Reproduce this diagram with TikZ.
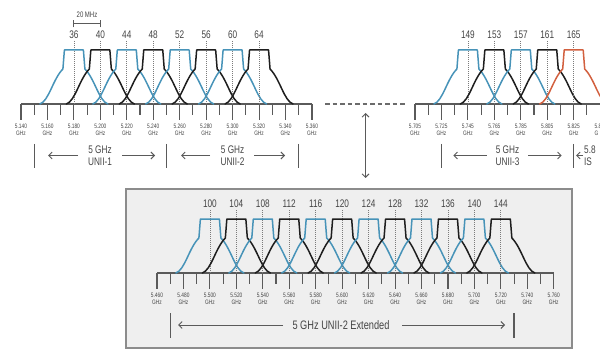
\documentclass[tikz,border=0pt]{standalone}
\usepackage{fontspec}
\setmainfont{Liberation Sans}
\newfontfamily\nf[FakeStretch=0.75]{Liberation Sans}
\usetikzlibrary{arrows.meta}
\definecolor{chblue}{HTML}{4793B8}
\definecolor{chblack}{HTML}{1E1E1E}
\definecolor{chred}{HTML}{D2603F}
\definecolor{axgray}{HTML}{5A5A5A}
\definecolor{txgray}{HTML}{444444}
\definecolor{boxfill}{HTML}{EFEFEF}
\definecolor{boxline}{HTML}{8C8C8C}
\tikzset{
  chmask/.pic={\draw[pic actions] (-34,0) .. controls (-25,-3) and (-21,-25) .. (-11,-35) -- (-9.5,-54) -- (9.5,-54) -- (11,-35) .. controls (21,-25) and (25,-3) .. (34,0);},
  chline/.style={line width=1.5pt, line join=round, line cap=round},
  cdot/.style={draw=axgray!80, line width=0.8pt, dash pattern=on 0.8pt off 1.2pt},
  chnum/.style={font=\nf\fontsize{11}{12}\selectfont, text=txgray, inner sep=0pt},
  flab/.style={font=\nf\fontsize{6.4}{7.3}\selectfont, text=txgray, align=center, inner sep=0pt, anchor=north},
  band/.style={font=\nf\fontsize{11}{12}\selectfont, text=txgray, align=center, inner sep=0pt},
  bandbig/.style={font=\nf\fontsize{12.3}{13}\selectfont, text=txgray, inner sep=0pt},
  axis/.style={draw=axgray, line width=1.1pt},
  tickl/.style={draw=axgray, line width=1.1pt},
  bar/.style={draw=axgray, line width=1.3pt},
  barrow/.style={draw=axgray, line width=0.9pt, -{Straight Barb[length=3.5pt,width=7pt]}},
}
\begin{document}
\begin{tikzpicture}[x=1pt,y=-1pt]
\useasboundingbox (0,0) rectangle (600,350);
\clip (0,0) rectangle (600,350);

% ---------- top-left group (UNII-1 / UNII-2) ----------
\draw[axis] (21,104) -- (312,104);
\foreach \f in {0,10,...,220}{
  \pgfmathsetmacro\xx{21+\f*1.3225}
  \pgfmathsetmacro\ln{mod(\f,20)==0 ? 16 : 11}
  \draw[tickl] (\xx,104) -- (\xx,104+\ln);
}
\foreach \lab [count=\i from 0] in {5.140,5.160,5.180,5.200,5.220,5.240,5.260,5.280,5.300,5.320,5.340,5.360}{
  \pgfmathsetmacro\xx{21+\i*26.45}
  \node[flab] (tl\i) at (\xx,123.5) {\lab\\GHz};
}
\foreach \ch/\col in {36/chblue,40/chblack,44/chblue,48/chblack,52/chblue,56/chblack,60/chblue,64/chblack}{
  \pgfmathsetmacro\xx{21+(5*\ch-140)*1.3225}
  \node[chnum] (c\ch) at (\xx,35) {\ch};
  \draw[cdot] (\xx,41) -- (\xx,104);
  \pic[draw=\col, chline] at (\xx,104) {chmask};
}
% 20 MHz dimension
\node[font=\nf\fontsize{8}{9}\selectfont, text=txgray, inner sep=0pt] (dim) at (87,14.5) {20 MHz};
\coordinate (dimL) at (73.9,24);
\coordinate (dimR) at (100.35,24);
\draw[axgray, line width=1pt] (dimL) -- (dimR);
\draw[axgray, line width=1pt] ([yshift=-3.5pt]dimL) -- ([yshift=3.5pt]dimL);
\draw[axgray, line width=1pt] ([yshift=-3.5pt]dimR) -- ([yshift=3.5pt]dimR);

% band labels
\draw[bar] (34.2,144) -- (34.2,168);
\draw[bar] (166.5,144) -- (166.5,168);
\draw[bar] (298.7,144) -- (298.7,168);
\node[band] (u1) at (100,155.5) {5 GHz\\UNII-1};
\draw[barrow] (78,155.5) -- (48,155.5);
\draw[barrow] (122,155.5) -- (155,155.5);
\node[band] (u2) at (232.6,155.5) {5 GHz\\UNII-2};
\draw[barrow] (210,155.5) -- (181,155.5);
\draw[barrow] (254,155.5) -- (285,155.5);

% dashed link and vertical arrow
\draw[axgray!90, line width=1.2pt, dash pattern=on 4.5pt off 3pt] (325,104) -- (407,104);
\coordinate (vt) at (365.5,113);
\coordinate (vb) at (365.5,178);
\draw[axgray, line width=0.9pt, {Straight Barb[length=3.5pt,width=7pt]}-{Straight Barb[length=3.5pt,width=7pt]}] (vt) -- (vb);

% ---------- top-right group (UNII-3 / ISM) ----------
\draw[axis] (415,104) -- (620,104);
\foreach \f in {0,10,...,150}{
  \pgfmathsetmacro\xx{415+\f*1.3225}
  \pgfmathsetmacro\ln{mod(\f,20)==0 ? 16 : 11}
  \draw[tickl] (\xx,104) -- (\xx,104+\ln);
}
\foreach \lab [count=\i from 0] in {5.705,5.725,5.745,5.765,5.785,5.805,5.825}{
  \pgfmathsetmacro\xx{415+\i*26.45}
  \node[flab] (tr\i) at (\xx,123.5) {\lab\\GHz};
}
\node[flab, anchor=north west, align=left] (tr7) at (594.5,123.5) {5.8\\G};
\foreach \ch/\col in {149/chblue,153/chblack,157/chblue,161/chblack,165/chred}{
  \pgfmathsetmacro\xx{415+(5*\ch-705)*1.3225}
  \node[chnum] (c\ch) at (\xx,35) {\ch};
  \draw[cdot] (\xx,41) -- (\xx,104);
  \pic[draw=\col, chline] at (\xx,104) {chmask};
}
\draw[bar] (441.4,144) -- (441.4,168);
\draw[bar] (573.2,144) -- (573.2,168);
\node[band] (u3) at (507.5,155.5) {5 GHz\\UNII-3};
\draw[barrow] (486.7,155.5) -- (453.3,155.5);
\draw[barrow] (528,155.5) -- (561.7,155.5);
\node[band, anchor=west, align=left] (ism) at (584,155.5) {5.8\\IS};
\draw[barrow] (583,155.5) -- (576,155.5);

% ---------- bottom group (UNII-2 Extended) ----------
\draw[draw=boxline, fill=boxfill, line width=1.2pt] (126,189) rectangle (572,348);
\draw[axis] (157,273) -- (553.75,273);
\foreach \f in {0,10,...,300}{
  \pgfmathsetmacro\xx{157+\f*1.3225}
  \pgfmathsetmacro\ln{mod(\f,20)==0 ? 16 : 11}
  \draw[tickl] (\xx,273) -- (\xx,273+\ln);
}
\foreach \lab [count=\i from 0] in {5.460,5.480,5.500,5.520,5.540,5.560,5.580,5.600,5.620,5.640,5.660,5.680,5.700,5.720,5.740,5.760}{
  \pgfmathsetmacro\xx{157+\i*26.45}
  \node[flab] (bl\i) at (\xx,292.5) {\lab\\GHz};
}
\foreach \ch/\col in {100/chblue,104/chblack,108/chblue,112/chblack,116/chblue,120/chblack,124/chblue,128/chblack,132/chblue,136/chblack,140/chblue,144/chblack}{
  \pgfmathsetmacro\xx{157+(5*\ch-460)*1.3225}
  \node[chnum] (c\ch) at (\xx,204) {\ch};
  \draw[cdot] (\xx,210) -- (\xx,273);
  \pic[draw=\col, chline] at (\xx,273) {chmask};
}
\draw[bar] (170.2,313) -- (170.2,338);
\draw[bar] (514,313) -- (514,338);
\node[bandbig] (u2e) at (341,325) {5 GHz UNII-2 Extended};
\draw[barrow] (283,325) -- (178,325);
\draw[barrow] (402,325) -- (505,325);
\end{tikzpicture}
\end{document}
